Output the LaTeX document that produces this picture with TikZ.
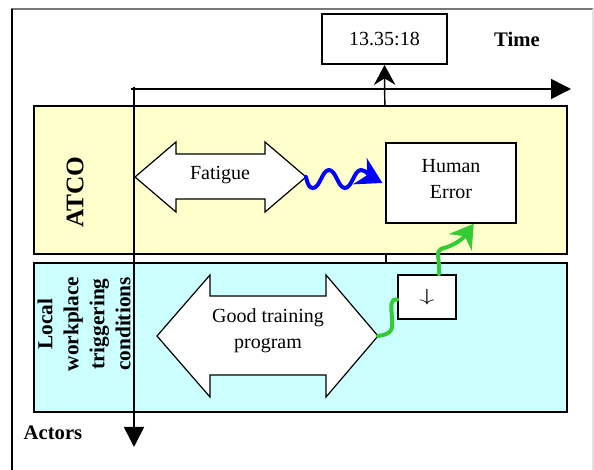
\documentclass[tikz,border=0pt]{standalone}
\usepackage{fontspec}
\usepackage{graphicx}
\setmainfont{Liberation Serif}
\usetikzlibrary{arrows.meta}
\definecolor{bandyellow}{RGB}{255,255,204}
\definecolor{bandcyan}{RGB}{204,255,255}
\definecolor{wavegreen}{RGB}{51,204,51}
\definecolor{wavebl}{RGB}{0,0,255}
\definecolor{framegray}{RGB}{120,120,120}
\definecolor{framelight}{RGB}{225,225,225}

\begin{document}
\begin{tikzpicture}[x=0.75pt,y=-0.75pt,
  band/.style={draw=black, line width=1.1pt},
  axisline/.style={line width=1.1pt, -{Triangle[length=15pt,width=15pt]}},
  bigarrow/.style={draw=black, fill=white, line width=0.9pt, line join=miter},
  box/.style={draw=black, fill=white, line width=1.3pt, inner sep=0pt},
  txt/.style={font=\fontsize{15}{19.5}\selectfont, align=center},
  boldtxt/.style={font=\fontsize{15.5}{19}\selectfont\bfseries},
  wave/.style={line width=3pt, line cap=round}
]
\useasboundingbox (0,0) rectangle (594,470);
\fill[white] (0,0) rectangle (594,470);

% page frame
\draw[framegray, line width=0.8pt] (11,9) -- (593,9);
\draw[framelight, line width=0.8pt] (593,9) -- (593,470);
\draw[black, line width=1pt] (12,9) -- (12,470);

% time stamp and its marker line
\node[box, minimum width=93.75pt, minimum height=37.5pt, txt] (clock) at (384.5,39) {13.35:18};
\node[boldtxt] (timelbl) at (517,39) {Time};
\coordinate (mark) at (386,263);
\draw[line width=1.1pt, -{Stealth[length=15pt,width=16pt]}] (mark) -- (clock.south);

% actor bands
\fill[bandyellow] (34,106) rectangle (567,254);
\draw[band] (34,106) rectangle (567,254);
\fill[bandcyan] (34,263) rectangle (567,412);
\draw[band] (34,263) rectangle (567,412);
\draw[line width=1.1pt] (386,254) -- (386,263);

\node[rotate=90, font=\fontsize{19}{22}\selectfont\bfseries] (atco) at (75,192) {ATCO};
\node[rotate=90, align=center, font=\fontsize{16}{19.5}\selectfont\bfseries] (local) at (84,324)
  {Local\\workplace\\triggering\\conditions};

% boxes
\node[box, minimum width=97.5pt, minimum height=60pt] (he) at (451,183) {};
\node[txt] (hetext) at (451,179) {Human\\Error};
\node[box, minimum width=43.5pt, minimum height=33pt] (small) at (427,297)
  {\fontsize{13}{15}\selectfont\scalebox{1.9}[1.1]{$\downarrow$}};

% double block arrows
\draw[bigarrow] (135,177) -- (176,142) -- (176,154) -- (265,154) -- (265,142) -- (306,177)
  -- (265,212) -- (265,199) -- (176,199) -- (176,212) -- cycle;
\node[txt] (fatigue) at (220,175) {Fatigue};
\coordinate (fatR) at (306,177);

\draw[bigarrow] (157,336) -- (210,275) -- (210,296) -- (326,296) -- (326,275) -- (378,336)
  -- (326,397) -- (326,375) -- (210,375) -- (210,397) -- cycle;
\node[txt] (train) at (268,331) {Good training\\program};
\coordinate (trainR) at (378,336);

% wavy influences
\draw[wave, wavebl, -{Stealth[length=19pt,width=22pt]}] (fatR)
  .. controls (308,186) and (310,188) .. (313,188)
  .. controls (320,188) and (322,170) .. (329,170)
  .. controls (336,170) and (338,188) .. (345,188)
  .. controls (352,188) and (354,170) .. (361,170)
  .. controls (366,170) and (371,177) .. ([xshift=-2pt]he.west);

\draw[wave, wavegreen] (trainR)
  .. controls (392,334) and (393,330) .. (392,318)
  .. controls (391,305) and (390,299) .. ([yshift=-2pt]small.west);

\draw[wave, wavegreen, -{Stealth[length=17pt,width=21pt]}] ([xshift=9pt]small.north)
  .. controls (440,258) and (434,250) .. (444,248)
  .. controls (452,246) and (462,240) .. ([xshift=17pt]he.south);

% axes
\coordinate (tstart) at (131,89);
\coordinate (tend) at (571,89);
\draw[axisline] (tstart) -- (tend);
\coordinate (astart) at (134,87);
\coordinate (aend) at (134,447);
\draw[axisline, line width=1.2pt] (astart) -- (aend);
\node[boldtxt] (actors) at (53,433) {Actors};
\end{tikzpicture}
\end{document}
